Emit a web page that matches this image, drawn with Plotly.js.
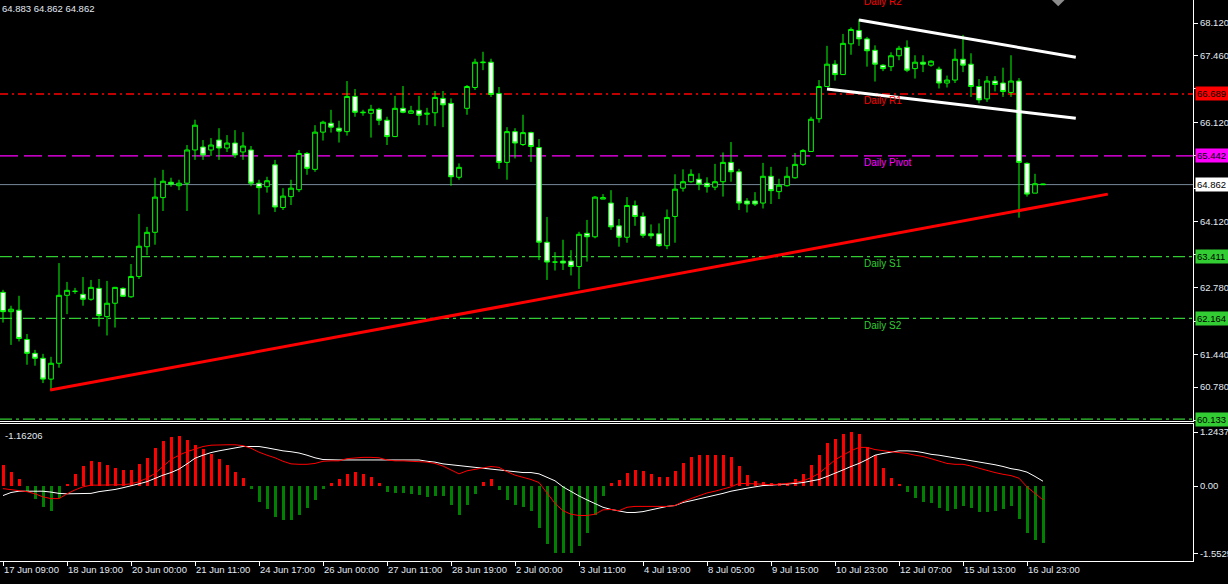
<!DOCTYPE html>
<html><head><meta charset="utf-8">
<script src="https://cdn.plot.ly/plotly-3.0.1.min.js"></script>
<style>html,body{margin:0;padding:0;background:#000;overflow:hidden}#chart{width:1228px;height:584px}</style>
</head><body><div id="chart"></div>
<script>
// ---- time axis ----
const tickLabels = ["17 Jun 09:00","18 Jun 19:00","20 Jun 00:00","21 Jun 11:00","24 Jun 17:00","26 Jun 00:00","27 Jun 11:00","28 Jun 19:00","2 Jul 00:00","3 Jul 11:00","4 Jul 19:00","8 Jul 05:00","9 Jul 15:00","10 Jul 23:00","12 Jul 07:00","15 Jul 13:00","16 Jul 23:00"];
const tickBars = [0,8,16,24,32,40,48,56,64,72,80,88,96,104,112,120,128];

// ---- candles (H4) ----
const open = [62.69,62.30,62.33,61.74,61.46,61.36,60.94,61.26,62.63,62.71,62.65,62.55,62.77,62.20,62.47,62.77,62.60,63.01,63.61,63.90,64.60,64.91,64.84,64.89,65.56,65.62,65.56,65.76,65.60,65.70,65.52,65.56,64.89,64.82,65.26,64.40,64.62,64.76,65.49,65.17,65.92,66.10,66.00,65.93,66.64,66.31,66.30,66.38,66.16,65.83,66.40,66.30,66.36,66.28,66.31,66.60,66.50,65.01,66.40,66.82,67.32,67.33,66.70,65.31,65.93,65.67,65.91,65.61,63.70,63.30,63.32,63.32,63.21,63.88,63.81,64.57,64.49,64.03,63.80,64.44,64.22,63.87,63.87,63.63,64.22,64.79,64.92,64.97,64.89,64.81,64.92,65.31,65.12,64.53,64.53,64.49,65.03,64.72,64.84,65.00,65.27,65.53,66.19,66.84,67.29,67.08,67.70,67.97,67.80,67.57,67.27,67.24,67.46,67.63,67.20,67.33,67.27,67.19,66.91,66.97,67.39,67.29,66.84,66.59,66.95,66.91,66.72,66.95,65.29,64.69,64.875];
const high = [62.74,62.42,62.62,61.85,61.53,61.45,61.39,63.28,62.90,62.78,63.00,62.94,62.96,62.92,62.80,62.79,63.26,64.27,64.01,65.00,65.16,65.00,64.96,65.66,66.17,65.76,65.80,66.00,65.86,65.96,65.92,65.64,64.96,65.02,65.36,64.79,64.96,65.56,65.52,66.06,66.15,66.37,66.15,66.95,66.79,66.37,66.47,66.41,66.23,66.65,66.85,66.45,66.65,66.41,66.75,66.75,66.60,65.29,66.87,67.40,67.54,67.40,66.83,66.02,66.00,66.27,65.93,65.78,64.21,63.50,63.75,63.54,63.91,64.15,64.63,64.67,64.75,64.17,64.61,64.54,64.30,64.06,64.08,64.36,65.07,65.17,65.17,65.09,65.01,65.28,65.51,65.72,65.18,64.59,64.71,65.30,65.22,64.98,65.22,65.50,65.58,66.23,66.97,67.66,67.37,67.90,68.03,68.20,67.84,67.67,67.29,67.53,67.66,67.77,67.47,67.47,67.37,67.24,67.06,67.60,67.88,67.51,66.99,67.05,67.05,67.22,67.47,67.01,65.31,65.08,64.883];
const low = [62.08,61.63,61.70,61.23,61.21,60.86,60.71,61.17,62.25,62.66,62.42,62.52,62.00,61.82,61.98,62.60,62.58,62.96,63.44,63.65,64.33,64.82,64.75,64.33,65.36,65.36,65.44,65.36,65.52,65.40,65.36,64.83,64.26,64.70,64.31,64.35,64.45,64.71,65.06,65.12,65.75,65.91,65.71,65.85,66.23,66.25,65.81,66.06,65.66,65.82,66.30,66.29,66.06,66.06,66.04,66.02,64.84,64.96,66.27,66.77,67.17,66.63,65.18,64.96,65.39,65.64,65.32,63.34,62.94,63.13,63.14,63.03,62.76,63.31,63.78,64.57,63.95,63.61,63.69,64.03,63.79,63.77,63.61,63.56,63.69,64.72,64.90,64.75,64.70,64.75,64.62,64.92,64.35,64.30,64.43,64.38,64.47,64.57,64.82,64.98,65.24,65.53,66.11,66.84,66.96,67.08,67.48,67.66,67.24,66.94,67.15,67.15,67.37,67.13,67.00,67.13,67.24,66.80,66.82,66.91,67.13,66.63,66.50,66.53,66.74,66.63,66.63,64.195,64.62,64.69,64.862];
const close = [62.30,62.35,61.76,61.46,61.36,60.94,61.26,62.63,62.73,62.71,62.55,62.79,62.22,62.47,62.79,62.61,63.01,63.62,63.90,64.61,64.93,64.87,64.89,65.56,66.06,65.46,65.66,65.60,65.70,65.46,65.64,64.89,64.80,64.94,64.41,64.63,64.79,65.49,65.19,65.92,66.12,66.02,65.94,66.64,66.32,66.32,66.38,66.16,65.83,66.40,66.32,66.35,66.26,66.30,66.62,66.47,65.02,65.21,66.84,67.33,67.33,66.68,65.31,65.93,65.70,65.91,65.63,63.70,63.30,63.30,63.28,63.21,63.86,63.81,64.61,64.60,64.01,63.80,64.44,64.22,63.84,63.83,63.63,64.20,64.77,64.92,65.07,64.87,64.82,64.92,65.31,65.12,64.49,64.47,64.47,65.03,64.74,64.85,65.03,65.27,65.55,66.18,66.84,67.29,67.08,67.71,67.99,67.80,67.56,67.29,67.20,67.46,67.61,67.17,67.33,67.29,67.35,66.91,66.97,67.39,67.27,66.84,66.57,66.95,66.88,66.74,66.95,65.31,64.67,64.88,64.862];

// ---- daily pivot levels ----
const levelNames = ["Daily R2","Daily R1","Daily Pivot","Daily S1","Daily S2","Daily S3"];
const levelValues = [68.720,66.689,65.442,63.411,62.164,60.133];
const lastPrice = 64.862;
const headerText = "64.883 64.862 64.862";

// ---- price axis ticks (labels under the level boxes are hidden) ----
const priceTicks = [68.12,67.46,66.79,66.12,65.45,64.79,64.12,63.45,62.78,62.11,61.44,60.78,60.11];
const priceTickText = ["68.120","67.460","","66.120","","","64.120","","62.780","","61.440","60.780",""];

// ---- drawn objects (bar index, price) ----
const trendX = [5.9,138.1], trendY = [60.72,64.67];
const chanUpX = [107,134.1], chanUpY = [68.18,67.43];
const chanLoX = [103,134.1], chanLoY = [66.79,66.20];
const arrowX = [131.9], arrowY = [68.60];

// ---- MACD pane ----
const macdHist = [0.48,0.33,0.16,-0.11,-0.29,-0.48,-0.57,-0.27,0.05,0.28,0.45,0.57,0.55,0.48,0.41,0.37,0.37,0.51,0.65,0.88,1.04,1.14,1.15,1.06,0.95,0.86,0.74,0.62,0.48,0.33,0.18,-0.08,-0.38,-0.54,-0.71,-0.79,-0.79,-0.66,-0.51,-0.32,-0.08,0.06,0.16,0.28,0.33,0.28,0.20,0.08,-0.14,-0.15,-0.15,-0.18,-0.21,-0.25,-0.23,-0.23,-0.43,-0.66,-0.43,-0.18,0.10,0.16,-0.10,-0.32,-0.43,-0.48,-0.58,-0.96,-1.34,-1.5525,-1.54,-1.55,-1.38,-1.09,-0.66,-0.22,0.06,0.14,0.31,0.37,0.35,0.28,0.21,0.21,0.35,0.53,0.67,0.71,0.71,0.71,0.71,0.67,0.46,0.25,0.12,0.09,0.07,0.07,0.06,0.16,0.28,0.48,0.71,0.99,1.08,1.20,1.24374,1.20,0.90,0.71,0.41,0.18,0.05,-0.14,-0.28,-0.37,-0.39,-0.51,-0.58,-0.53,-0.46,-0.51,-0.60,-0.60,-0.58,-0.53,-0.46,-0.76,-1.08,-1.24,-1.31];
const macdWhite = [-0.22,-0.15,-0.12,-0.12,-0.12,-0.12,-0.14,-0.17,-0.18,-0.18,-0.18,-0.17,-0.13,-0.11,-0.08,-0.04,0.00,0.05,0.10,0.18,0.25,0.31,0.39,0.51,0.64,0.71,0.77,0.81,0.84,0.88,0.91,0.91,0.91,0.88,0.84,0.81,0.79,0.76,0.71,0.65,0.61,0.60,0.60,0.60,0.60,0.60,0.61,0.61,0.61,0.61,0.61,0.61,0.60,0.57,0.55,0.51,0.49,0.47,0.45,0.42,0.41,0.39,0.36,0.34,0.33,0.31,0.31,0.28,0.20,0.12,-0.02,-0.13,-0.23,-0.32,-0.41,-0.49,-0.54,-0.57,-0.61,-0.61,-0.59,-0.55,-0.51,-0.47,-0.45,-0.38,-0.34,-0.30,-0.26,-0.22,-0.17,-0.12,-0.08,-0.05,-0.02,0.01,0.02,0.03,0.04,0.06,0.08,0.12,0.15,0.22,0.29,0.37,0.45,0.52,0.61,0.71,0.75,0.78,0.81,0.81,0.80,0.77,0.73,0.71,0.68,0.65,0.62,0.59,0.56,0.52,0.49,0.45,0.40,0.37,0.32,0.22,0.11];
const macdRed = [-0.06,-0.08,-0.11,-0.13,-0.18,-0.25,-0.29,-0.29,-0.18,-0.09,-0.02,0.02,0.02,0.02,0.02,0.03,0.05,0.10,0.18,0.29,0.45,0.61,0.71,0.79,0.85,0.91,0.94,0.95,0.95,0.95,0.93,0.87,0.78,0.71,0.65,0.57,0.51,0.50,0.50,0.52,0.57,0.58,0.58,0.63,0.65,0.66,0.66,0.65,0.60,0.58,0.58,0.57,0.57,0.55,0.52,0.46,0.37,0.28,0.35,0.38,0.42,0.45,0.43,0.33,0.25,0.20,0.15,0.08,-0.17,-0.40,-0.57,-0.65,-0.68,-0.68,-0.65,-0.55,-0.54,-0.57,-0.49,-0.47,-0.47,-0.47,-0.47,-0.47,-0.45,-0.36,-0.29,-0.23,-0.16,-0.12,-0.07,-0.02,0.06,0.06,0.05,0.04,0.03,0.04,0.06,0.08,0.12,0.19,0.29,0.45,0.60,0.71,0.81,0.89,0.89,0.84,0.81,0.79,0.77,0.75,0.71,0.68,0.63,0.57,0.52,0.50,0.50,0.46,0.41,0.35,0.31,0.27,0.24,0.18,-0.02,-0.17,-0.32];
const macdHeader = "-1.16206";
const macdTicks = [1.24374, 0, -1.5525];
const macdTickText = ["1.24374","0.00","-1.5525"];

// ---------------- drawing ----------------
const idx = open.map((_, i) => i);
const FONT = "Liberation Sans, Arial, sans-serif";
const TXT = "#e2eaf3";
const LIME = "#00ff00";
const levelColors = ["#ff0000","#ff0000","#ff00ff","#32cd32","#32cd32","#32cd32"];
const levelDash = ["8px,4px,2px,4px","8px,4px,2px,4px","18px,6px","12px,4px,3px,4px","12px,4px,3px,4px","12px,4px,3px,4px"];

const traces = [
  {type:'candlestick', x:idx, open:open, high:high, low:low, close:close, xaxis:'x', yaxis:'y',
   increasing:{line:{color:LIME,width:1}, fillcolor:'#000000'},
   decreasing:{line:{color:LIME,width:1}, fillcolor:'#ffffff'},
   whiskerwidth:0, hoverinfo:'skip', showlegend:false},
  {type:'scatter', mode:'lines', x:trendX, y:trendY, xaxis:'x', yaxis:'y', line:{color:'#ff0000', width:3}, hoverinfo:'skip'},
  {type:'scatter', mode:'lines', x:chanUpX, y:chanUpY, xaxis:'x', yaxis:'y', line:{color:'#ffffff', width:3}, hoverinfo:'skip'},
  {type:'scatter', mode:'lines', x:chanLoX, y:chanLoY, xaxis:'x', yaxis:'y', line:{color:'#ffffff', width:3}, hoverinfo:'skip'},
  {type:'scatter', mode:'markers', x:arrowX, y:arrowY, xaxis:'x', yaxis:'y', cliponaxis:true,
   marker:{symbol:'diamond', size:11, color:'#8c8c8c', line:{width:0}}, hoverinfo:'skip'},
  {type:'bar', x:idx, y:macdHist, xaxis:'x2', yaxis:'y2', width:0.375,
   marker:{color:macdHist.map(v => v >= 0 ? '#ff0000' : '#008000'), line:{width:0}}, hoverinfo:'skip'},
  {type:'scatter', mode:'lines', x:idx, y:macdWhite, xaxis:'x2', yaxis:'y2', line:{color:'#ffffff', width:1}, hoverinfo:'skip'},
  {type:'scatter', mode:'lines', x:idx, y:macdRed, xaxis:'x2', yaxis:'y2', line:{color:'#ff0000', width:1}, hoverinfo:'skip'}
];

const shapes = [];
levelValues.forEach((v, k) => {
  shapes.push({type:'line', xref:'paper', x0:0, x1:1, yref:'y', y0:v, y1:v, layer:'below',
               line:{color:levelColors[k], width:1.3, dash:levelDash[k]}});
});
shapes.push({type:'line', xref:'paper', x0:0, x1:1, yref:'y', y0:lastPrice, y1:lastPrice, layer:'below',
             line:{color:'#778899', width:1}});

const annotations = [];
levelValues.forEach((v, k) => {
  if (k === 0) {
    annotations.push({xref:'x', x:107.4, xanchor:'left', yref:'paper', y:1, yanchor:'middle', yshift:-1,
      text:levelNames[k], showarrow:false, font:{family:FONT, size:10, color:levelColors[k]}});
  } else if (k < 5) {
    annotations.push({xref:'x', x:107.4, xanchor:'left', yref:'y', y:v, yanchor:'middle', yshift:-7,
      text:levelNames[k], showarrow:false, font:{family:FONT, size:10, color:levelColors[k]}});
  }
});
const boxBg = ["", "#ff0000", "#ff00ff", "#32cd32", "#32cd32", "#32cd32"];
levelValues.forEach((v, k) => {
  if (k === 0) return;
  annotations.push({xref:'paper', x:1, xanchor:'left', xshift:2, yref:'y', y:v, yanchor:'middle',
    text:v.toFixed(3), showarrow:false, bgcolor:boxBg[k], borderpad:1, width:36, align:'left',
    font:{family:FONT, size:9.5, color:'#000000'}});
});
annotations.push({xref:'paper', x:1, xanchor:'left', xshift:2, yref:'y', y:lastPrice, yanchor:'middle',
  text:lastPrice.toFixed(3), showarrow:false, bgcolor:'#ffffff', borderpad:1, width:36, align:'left',
  font:{family:FONT, size:9.5, color:'#000000'}});
annotations.push({xref:'paper', x:0, xanchor:'left', xshift:0, yref:'paper', y:1, yanchor:'top', yshift:-1,
  text:headerText, showarrow:false, font:{family:FONT, size:9.5, color:TXT}});
annotations.push({xref:'paper', x:0, xanchor:'left', xshift:3, yref:'y2 domain', y:1, yanchor:'top', yshift:-4,
  text:macdHeader, showarrow:false, font:{family:FONT, size:9.5, color:TXT}});

const tickFont = {family:FONT, size:9.5, color:TXT};
const layout = {
  width:1228, height:584,
  margin:{l:0, r:35, t:0, b:23, pad:0},
  paper_bgcolor:'#000000', plot_bgcolor:'#000000',
  showlegend:false, boxgap:0.35, boxgroupgap:0.1, bargap:0,
  xaxis:{domain:[0,1], anchor:'y', range:[-0.375,148.75], showgrid:false, zeroline:false,
         showline:true, linecolor:'#ffffff', linewidth:1, ticks:'', showticklabels:false,
         rangeslider:{visible:false}, fixedrange:true},
  xaxis2:{domain:[0,1], anchor:'y2', matches:'x', showgrid:false, zeroline:false,
         showline:true, mirror:true, linecolor:'#ffffff', linewidth:1,
         tickmode:'array', tickvals:tickBars, ticktext:tickLabels,
         ticks:'outside', ticklen:4, tickcolor:'#ffffff', ticklabelposition:'outside right',
         tickfont:tickFont, fixedrange:true},
  yaxis:{domain:[0.2487,1], anchor:'x', side:'right', range:[60.086,68.584],
         showgrid:false, zeroline:false, showline:true, linecolor:'#ffffff', linewidth:1,
         tickmode:'array', tickvals:priceTicks, ticktext:priceTickText,
         ticks:'outside', ticklen:4, tickcolor:'#ffffff', tickfont:tickFont, fixedrange:true},
  yaxis2:{domain:[0,0.2442], anchor:'x2', side:'right', range:[-1.728,1.4286],
         showgrid:false, zeroline:false, showline:true, linecolor:'#ffffff', linewidth:1,
         tickmode:'array', tickvals:macdTicks, ticktext:macdTickText,
         ticks:'outside', ticklen:4, tickcolor:'#ffffff', tickfont:tickFont, fixedrange:true},
  shapes:shapes,
  annotations:annotations
};

Plotly.newPlot('chart', traces, layout, {staticPlot:true, displayModeBar:false});
</script>
</body></html>
